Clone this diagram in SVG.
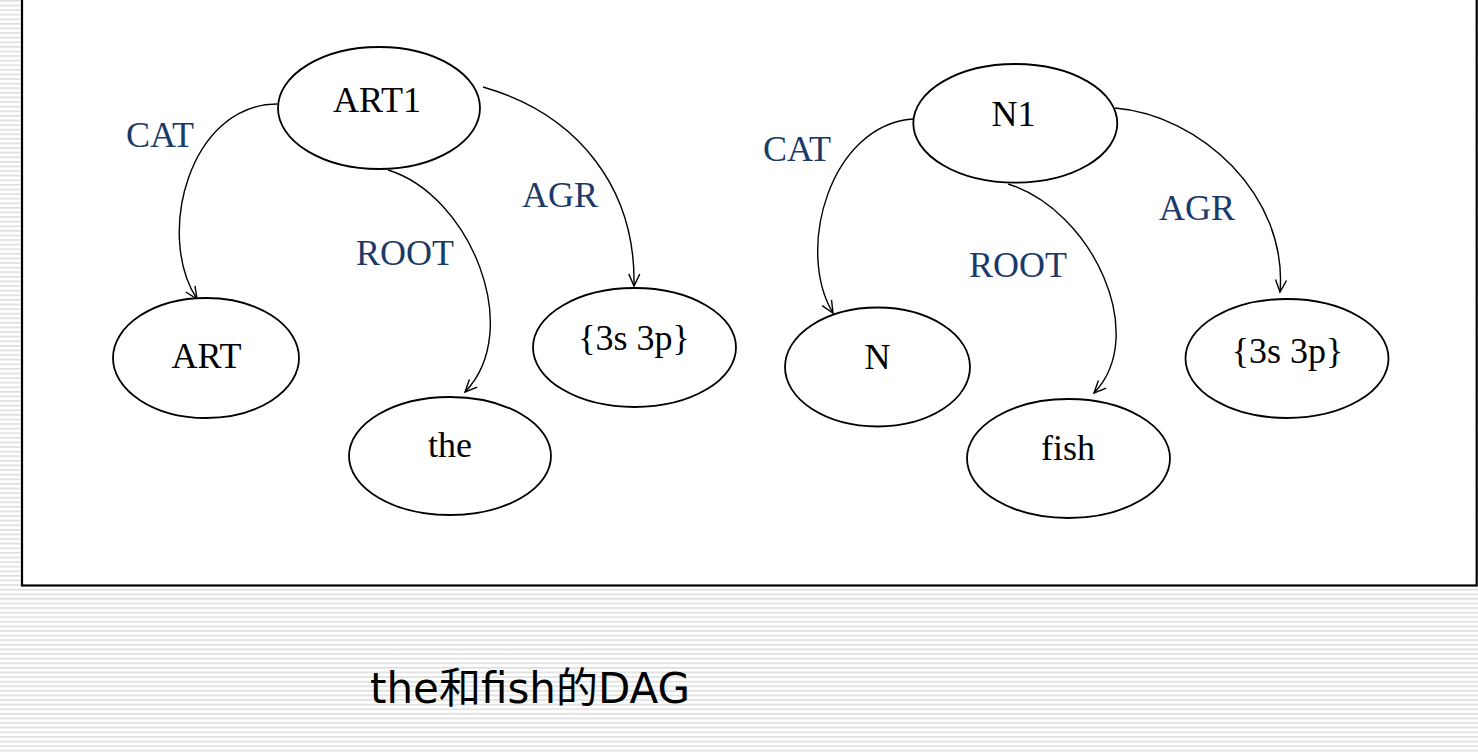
<svg xmlns="http://www.w3.org/2000/svg" width="1478" height="754" viewBox="0 0 1478 754">
  <style>
    .node ellipse { fill: #ffffff; stroke: #000000; stroke-width: 1.8; }
    .node text { font-family: "Liberation Serif", "Times New Roman", serif; font-size: 36px; fill: #000000; text-anchor: middle; }
    .edge { fill: none; stroke: #000000; stroke-width: 1.4; marker-end: url(#arrow); }
    .label { font-family: "Liberation Serif", "Times New Roman", serif; font-size: 36px; fill: #1b3a6a; text-anchor: middle; }
    .caption { font-family: "DejaVu Sans", Verdana, "Noto Sans CJK SC", sans-serif; font-size: 42px; fill: #000000; }
  </style>
  <defs>
    <pattern id="stripes" patternUnits="userSpaceOnUse" width="10" height="4.6">
      <rect x="0" y="0" width="10" height="4.6" fill="#ffffff"/>
      <rect x="0" y="0" width="10" height="1.6" fill="#dedede"/>
    </pattern>
    <marker id="arrow" markerUnits="userSpaceOnUse" markerWidth="16" markerHeight="14" refX="13" refY="6" orient="auto" viewBox="0 0 16 12">
      <path d="M1,0.5 L13,6 L1,11.5" fill="none" stroke="#000000" stroke-width="1.4"/>
    </marker>
  </defs>

  <rect x="0" y="0" width="1478" height="754" fill="url(#stripes)"/>
  <rect x="22" y="-10" width="1454.7" height="595.5" fill="#ffffff" stroke="#000000" stroke-width="2.2"/>

  <g id="connectors">
    <path class="edge" d="M277,104 C190,104 155,235 197,299"/>
    <path class="edge" d="M388,170 C470,195 525,330 465,392"/>
    <path class="edge" d="M483,87 C580,115 636,190 634,286"/>
    <path class="edge" d="M913,119 C830,125 795,250 833,313"/>
    <path class="edge" d="M1008,184 C1092,210 1150,335 1094,393"/>
    <path class="edge" d="M1115,108 C1200,115 1288,195 1280,292"/>
  </g>

  <g id="labels">
    <text class="label" x="160" y="147">CAT</text>
    <text class="label" x="405" y="265">ROOT</text>
    <text class="label" x="560" y="207">AGR</text>
    <text class="label" x="797" y="161">CAT</text>
    <text class="label" x="1018" y="277">ROOT</text>
    <text class="label" x="1197" y="220">AGR</text>
  </g>

  <g id="node-art1" class="node">
    <ellipse cx="379" cy="108" rx="101" ry="61"/>
    <text x="377" y="112">ART1</text>
  </g>
  <g id="node-art" class="node">
    <ellipse cx="206" cy="358" rx="93" ry="60"/>
    <text x="206.5" y="368">ART</text>
  </g>
  <g id="node-the" class="node">
    <ellipse cx="450" cy="456" rx="101" ry="59"/>
    <text x="450" y="457">the</text>
  </g>
  <g id="node-agr1" class="node">
    <ellipse cx="634.5" cy="347.5" rx="101.5" ry="59.5"/>
    <text x="634" y="350">{3s 3p}</text>
  </g>
  <g id="node-n1" class="node">
    <ellipse cx="1015.3" cy="123.3" rx="102" ry="59.3"/>
    <text x="1013.5" y="126">N1</text>
  </g>
  <g id="node-n" class="node">
    <ellipse cx="877.5" cy="367" rx="92.5" ry="59.5"/>
    <text x="877.5" y="369">N</text>
  </g>
  <g id="node-fish" class="node">
    <ellipse cx="1068.5" cy="458.5" rx="101.5" ry="59.5"/>
    <text x="1068" y="460">fish</text>
  </g>
  <g id="node-agr2" class="node">
    <ellipse cx="1287" cy="358.5" rx="101.5" ry="59.5"/>
    <text x="1287.5" y="363">{3s 3p}</text>
  </g>

  <text class="caption" x="370" y="703">the和fish的DAG</text>
</svg>
